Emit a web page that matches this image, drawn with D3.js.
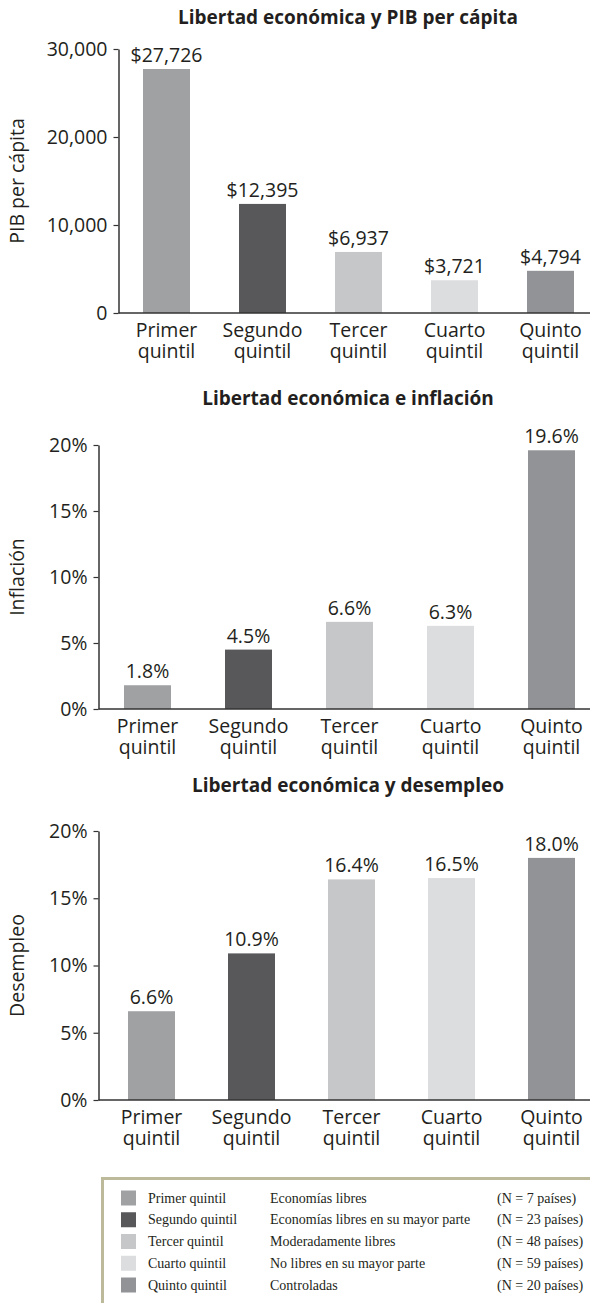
<!DOCTYPE html>
<html>
<head>
<meta charset="utf-8">
<script src="https://cdn.jsdelivr.net/npm/d3@7"></script>
<style>
  body { margin: 0; background: #fff; }
  svg text { fill: #231f20; }
</style>
</head>
<body>
<div id="chart"></div>
<script>
// quintiles
var categories = ["Primer quintil", "Segundo quintil", "Tercer quintil", "Cuarto quintil", "Quinto quintil"];
var xLabels = [["Primer", "quintil"], ["Segundo", "quintil"], ["Tercer", "quintil"], ["Cuarto", "quintil"], ["Quinto", "quintil"]];
var colors = ["#a0a1a3", "#58585b", "#c6c7c9", "#dcdddf", "#929396"];

// series
var gdpValues = [27726, 12395, 6937, 3721, 4794];
var inflationValues = [1.8, 4.5, 6.6, 6.3, 19.6];
var unemploymentValues = [6.6, 10.9, 16.4, 16.5, 18.0];

// ticks
var gdpTicks = [0, 10000, 20000, 30000];
var pctTicks = [0, 5, 10, 15, 20];

// legend
var legendDescriptions = ["Economías libres", "Economías libres en su mayor parte", "Moderadamente libres", "No libres en su mayor parte", "Controladas"];
var legendCounts = ["(N = 7 países)", "(N = 23 países)", "(N = 48 países)", "(N = 59 países)", "(N = 20 países)"];

var W = 590, H = 1303;
var font = "'Open Sans', Lato, sans-serif";

var svg = d3.select("#chart").append("svg")
  .attr("width", W).attr("height", H);

function drawChart(opt) {
  var g = svg.append("g");

  var y = d3.scaleLinear().domain([0, opt.max]).range([opt.zeroY, opt.topY]);

  var step = opt.step, gap = step - 47;
  var r0 = opt.firstBar - gap / 2;
  var x = d3.scaleBand().domain(categories)
    .range([r0, r0 + 5 * step])
    .paddingInner(gap / step)
    .paddingOuter(gap / step / 2);

  // title
  g.append("text")
    .attr("x", 348).attr("y", opt.titleY)
    .attr("text-anchor", "middle")
    .style("font-family", font).style("font-weight", "bold").style("font-size", "19px")
    .text(opt.title);

  // bars
  g.selectAll("rect.bar")
    .data(opt.values)
    .enter().append("rect")
    .attr("class", "bar")
    .attr("x", function (d, i) { return x(categories[i]); })
    .attr("y", function (d) { return y(d); })
    .attr("width", x.bandwidth())
    .attr("height", function (d) { return opt.zeroY - y(d); })
    .style("fill", function (d, i) { return colors[i]; });

  // value labels
  g.selectAll("text.val")
    .data(opt.values)
    .enter().append("text")
    .attr("class", "val")
    .attr("x", function (d, i) { return x(categories[i]) + x.bandwidth() / 2; })
    .attr("y", function (d) { return y(d) - 7; })
    .attr("text-anchor", "middle")
    .style("font-family", font).style("font-size", "19.5px")
    .text(opt.valueFormat);

  // y axis
  var yAxis = g.append("g")
    .attr("transform", "translate(" + opt.axisX + ",0)")
    .call(d3.axisLeft(y).tickValues(opt.ticks).tickSize(5).tickSizeOuter(0).tickPadding(6).tickFormat(opt.tickFormat));
  yAxis.select(".domain").attr("stroke", "#333").attr("stroke-width", 1.5);
  yAxis.selectAll(".tick line").attr("stroke", "#333").attr("stroke-width", 1.2);
  yAxis.selectAll(".tick text")
    .style("font-family", font).style("font-size", "19.5px").attr("fill", "#231f20");

  // x baseline
  g.append("line")
    .attr("x1", opt.axisX).attr("x2", W)
    .attr("y1", opt.zeroY).attr("y2", opt.zeroY)
    .attr("stroke", "#333").attr("stroke-width", 1.5);

  // x labels
  var xl = g.selectAll("text.xl")
    .data(categories)
    .enter().append("text")
    .attr("class", "xl")
    .attr("text-anchor", "middle")
    .style("font-family", font).style("font-size", "19.5px")
    .attr("transform", function (d) { return "translate(" + (x(d) + x.bandwidth() / 2) + "," + (opt.zeroY + 24) + ")"; });
  xl.append("tspan").attr("x", 0).attr("dy", 0).text(function (d, i) { return xLabels[i][0]; });
  xl.append("tspan").attr("x", 0).attr("dy", 21).text(function (d, i) { return xLabels[i][1]; });

  // y label
  g.append("text")
    .attr("transform", "translate(24," + ((opt.zeroY + opt.topY) / 2) + ") rotate(-90)")
    .attr("text-anchor", "middle")
    .style("font-family", font).style("font-size", "19.5px")
    .text(opt.yLabel);
}

drawChart({
  title: "Libertad económica y PIB per cápita",
  titleY: 24,
  values: gdpValues,
  ticks: gdpTicks,
  max: 30000,
  zeroY: 313, topY: 49,
  axisX: 118.5,
  firstBar: 143, step: 96,
  yLabel: "PIB per cápita",
  tickFormat: d3.format(","),
  valueFormat: d3.format("$,")
});

drawChart({
  title: "Libertad económica e inflación",
  titleY: 405,
  values: inflationValues,
  ticks: pctTicks,
  max: 20,
  zeroY: 709, topY: 445,
  axisX: 98.5,
  firstBar: 124, step: 101,
  yLabel: "Inflación",
  tickFormat: function (d) { return d + "%"; },
  valueFormat: function (d) { return d.toFixed(1) + "%"; }
});

drawChart({
  title: "Libertad económica y desempleo",
  titleY: 792,
  values: unemploymentValues,
  ticks: pctTicks,
  max: 20,
  zeroY: 1100, topY: 831,
  axisX: 98.5,
  firstBar: 128, step: 100,
  yLabel: "Desempleo",
  tickFormat: function (d) { return d + "%"; },
  valueFormat: function (d) { return d.toFixed(1) + "%"; }
});

// legend box
var lg = svg.append("g");
lg.append("path")
  .attr("d", "M102.5," + H + "V1178.5H" + W)
  .attr("fill", "none").attr("stroke", "#bdb99b").attr("stroke-width", 3);

var rowY = d3.scaleLinear().domain([0, 4]).range([1198, 1285]);
var rows = lg.selectAll("g.row")
  .data(categories)
  .enter().append("g")
  .attr("class", "row")
  .attr("transform", function (d, i) { return "translate(0," + rowY(i) + ")"; });

rows.append("rect")
  .attr("x", 121).attr("y", -7.5).attr("width", 15).attr("height", 15)
  .style("fill", function (d, i) { return colors[i]; });

var serif = "'Liberation Serif', 'DejaVu Serif', serif";
rows.append("text").attr("x", 148).attr("y", 4.5)
  .style("font-family", serif).style("font-size", "14px").text(function (d) { return d; });
rows.append("text").attr("x", 270).attr("y", 4.5)
  .style("font-family", serif).style("font-size", "14px").text(function (d, i) { return legendDescriptions[i]; });
rows.append("text").attr("x", 497).attr("y", 4.5)
  .style("font-family", serif).style("font-size", "14px").text(function (d, i) { return legendCounts[i]; });
</script>
</body>
</html>
